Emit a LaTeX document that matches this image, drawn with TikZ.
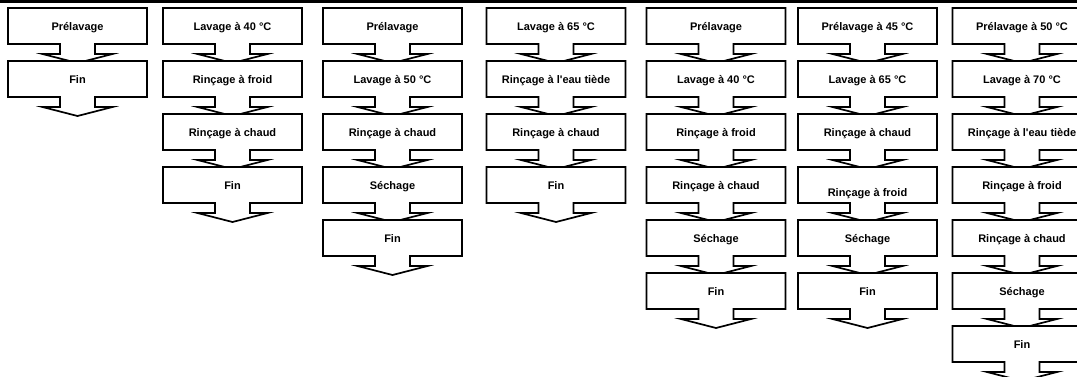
\documentclass[tikz,border=0pt]{standalone}
\usepackage{fontspec}
\setmainfont{Liberation Sans}[Ligatures=TeXOff]

\tikzset{
  contour/.style={draw, line width=1.7pt, fill=white, line join=miter},
  etiquette/.style={font=\bfseries\fontsize{11}{13}\selectfont, inner sep=0pt, anchor=base}
}
\newcommand{\boite}[4]{%
  \path[contour] ({#2-69.5},{#3-18}) -- ({#2+69.5},{#3-18}) -- ({#2+69.5},{#3+18})
    -- ({#2+17.5},{#3+18}) -- ({#2+17.5},{#3+28}) -- ({#2+35},{#3+28}) -- ({#2},{#3+37})
    -- ({#2-35},{#3+28}) -- ({#2-17.5},{#3+28}) -- ({#2-17.5},{#3+18})
    -- ({#2-69.5},{#3+18}) -- cycle;
  \node[etiquette] (#1) at ({#2},{#3+4}) {#4};
}

\begin{document}
\begin{tikzpicture}[x=1pt, y=-1pt]
 \useasboundingbox (0,0) rectangle (1077,376);
 \draw[line width=2.5pt] (0,1.25) -- (1077,1.25);
 \foreach \x/\liste [count=\c] in {
   77.5/{Prélavage,Fin},
   232.5/{Lavage à 40 °C,Rinçage à froid,Rinçage à chaud,Fin},
   392.5/{Prélavage,Lavage à 50 °C,Rinçage à chaud,Séchage,Fin},
   556/{Lavage à 65 °C,Rinçage à l'eau tiède,Rinçage à chaud,Fin},
   716/{Prélavage,Lavage à 40 °C,Rinçage à froid,Rinçage à chaud,Séchage,Fin},
   867.5/{Prélavage à 45 °C,Lavage à 65 °C,Rinçage à chaud,\raisebox{-7pt}{Rinçage à froid},Séchage,Fin},
   1022/{Prélavage à 50 °C,Lavage à 70 °C,Rinçage à l'eau tiède,Rinçage à froid,Rinçage à chaud,Séchage,Fin}}
  \foreach \t [count=\i] in \liste
   {\boite{c\c-\i}{\x}{26+(\i-1)*53}{\t}}
\end{tikzpicture}
\end{document}
